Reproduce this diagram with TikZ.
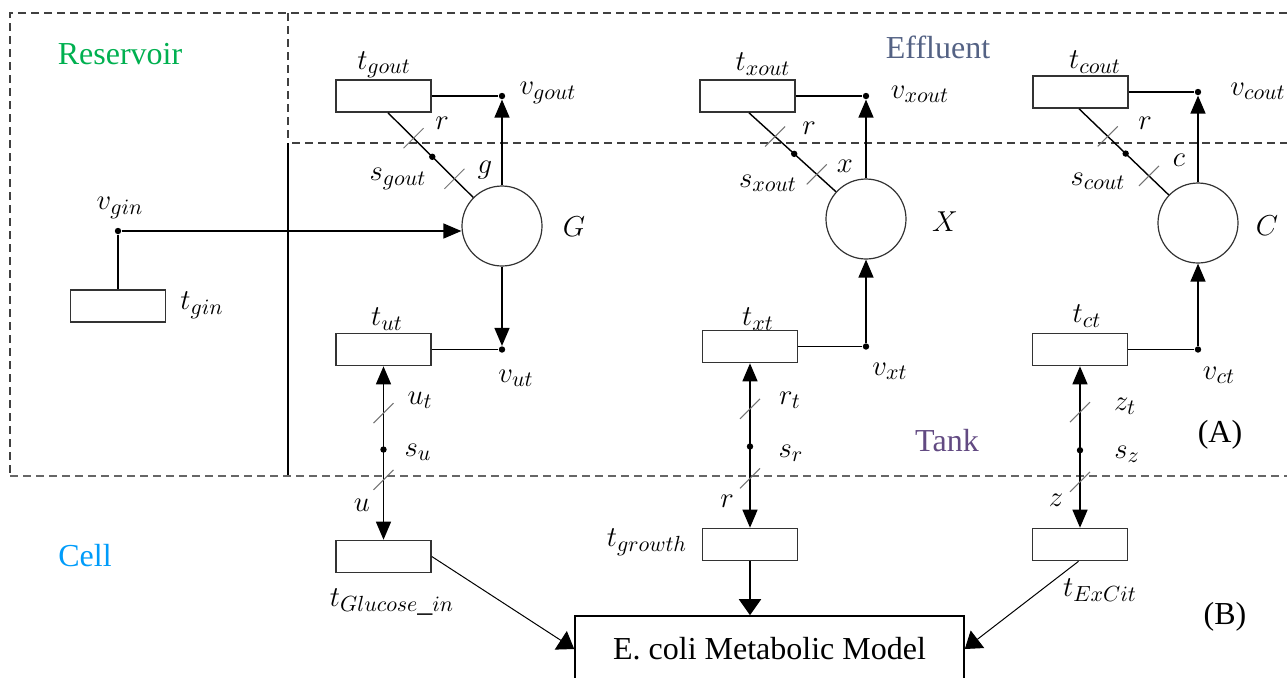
\documentclass[tikz,border=0pt]{standalone}
\usepackage{fontspec}
\setmainfont{Liberation Serif}
\usetikzlibrary{arrows.meta}
\definecolor{resgreen}{RGB}{0,176,80}
\definecolor{effslate}{RGB}{84,98,132}
\definecolor{tankpurple}{RGB}{98,74,130}
\definecolor{cellblue}{RGB}{0,156,250}

\begin{document}
\begin{tikzpicture}[x=0.5pt, y=-0.5pt,
		trans/.style={draw=black!80, line width=0.8pt, minimum width=47.5pt,
			minimum height=16pt, inner sep=0pt},
		place/.style={circle, draw=black!80, line width=0.6pt, minimum size=40pt, inner sep=0pt},
		joint/.style={circle, fill, inner sep=0pt, minimum size=3.2pt},
		lbl/.style={font=\fontsize{15}{18}\selectfont, inner sep=0pt},
		region/.style={font=\fontsize{16}{19}\selectfont, inner sep=0pt},
		link/.style={line width=0.7pt},
		arc/.style={link, -{Triangle[length=9pt, width=7.5pt]}},
		biarc/.style={link, {Triangle[length=9pt, width=7.5pt]}-{Triangle[length=9pt, width=7.5pt]}},
		feed/.style={line width=0.5pt, -{Triangle[length=8pt, width=11pt]}},
		frame/.style={draw=black!75, line width=0.7pt, dash pattern=on 4pt off 2.5pt},
		tickline/.style={draw=black!55, line width=0.5pt}
	]
		\useasboundingbox (0,0) rectangle (1287,677);
		% compartments
		\draw[frame] (1287,13) -- (10,13) -- (10,476);
		\draw[frame] (288,13) -- (288,143);
		\draw[frame] (292,143) -- (1287,143);
		\draw[link] (288,143) -- (288,476);
		\draw[frame, draw=black!60, line width=1pt] (10,476) -- (1287,476);
		\node[region, text=resgreen] (reservoir) at (120,54) {Reservoir};
		\node[region, text=effslate] (effluent) at (938,47) {Effluent};
		\node[region, text=tankpurple] (tank) at (947,441) {Tank};
		\node[region, text=cellblue] (cell) at (85,556) {Cell};
		\node[region] (markA) at (1220,435) {(A)};
		\node[region] (markB) at (1225,617) {(B)};

		% places
		\node[place] (G) at (502,226) {};
		\node[place] (X) at (866,219) {};
		\node[place] (C) at (1198,223) {};
		\node[lbl] (Gl) at (574,227) {$G$};
		\node[lbl] (Xl) at (945,222) {$X$};
		\node[lbl] (Cl) at (1267,226) {$C$};

		% transitions
		\node[trans] (tgin) at (118,306) {};
		\node[trans] (tgout) at (383.5,96) {};
		\node[trans] (tut) at (383.5,349.5) {};
		\node[trans] (tgluc) at (383.5,556.5) {};
		\node[trans] (txout) at (747.5,96) {};
		\node[trans] (txt) at (750,346.5) {};
		\node[trans] (tgrowth) at (750,544.5) {};
		\node[trans] (tcout) at (1080.5,92) {};
		\node[trans] (tct) at (1080,349.5) {};
		\node[trans] (texcit) at (1080,544.5) {};
		\node[draw, line width=0.8pt, minimum width=194.5pt, minimum height=33pt,
			font=\fontsize{16}{19}\selectfont] (ecoli) at (769.5,649) {E. coli Metabolic Model};

		% junctions
		\node[joint] (vgin) at (118,231) {};
		\node[joint] (vgout) at (502,96) {};
		\node[joint] (vut) at (502,349.5) {};
		\node[joint] (vxout) at (866,96) {};
		\node[joint] (vxt) at (866,346.5) {};
		\node[joint] (vcout) at (1198,92) {};
		\node[joint] (vct) at (1198,349.5) {};

		% arcs
		\draw[link] (vgin) -- (tgin);
		\draw[arc] (vgin) -- (vgin -| G.west);
		\foreach \a/\b in {G/vgout,G/vut,vxt/X,X/vxout,vct/C,C/vcout}
			\draw[arc] (\a) -- (\b);
		\foreach \a/\b in {tgout/vgout,tut/vut,txout/vxout,txt/vxt,tcout/vcout,tct/vct}
			\draw[link] (\a.east) -- (\b);
		\draw[link] (tgout.-75) -- coordinate[pos=0.3] (gt1) node[joint, pos=0.52] (sgout) {}
			coordinate[pos=0.78] (gt2) (G);
		\draw[link] (txout.-85) -- coordinate[pos=0.3] (xt1) node[joint, pos=0.52] (sxout) {}
			coordinate[pos=0.78] (xt2) (X);
		\draw[link] (tcout.-95) -- coordinate[pos=0.32] (ct1) node[joint, pos=0.52] (scout) {}
			coordinate[pos=0.78] (ct2) (C);
		\draw[biarc] (tut) -- coordinate[pos=0.27] (ut1) node[joint, pos=0.48] (su) {}
			coordinate[pos=0.655] (ut2) (tgluc);
		\draw[biarc] (txt) -- coordinate[pos=0.277] (rt1) node[joint, pos=0.506] (sr) {}
			coordinate[pos=0.70] (rt2) (tgrowth);
		\draw[biarc] (tct) -- coordinate[pos=0.284] (zt1) node[joint, pos=0.52] (sz) {}
			coordinate[pos=0.716] (zt2) (texcit);
		\foreach \t in {gt1,gt2,xt1,xt2,ct1,ct2,ut1,ut2,rt1,rt2,zt1,zt2}
			\draw[tickline] (\t) ++(-10,10) -- ++(20,-20);

		% into the metabolic model
		\draw[feed] (tgluc.east) -- (ecoli.west);
		\draw[feed, line width=1pt] (tgrowth) -- (tgrowth |- ecoli.north);
		\draw[feed] (texcit.-95) -- (ecoli.east);

		% labels
		\node[lbl] (tginl) at (202,305) {$t_{gin}$};
		\node[lbl] (vginl) at (120,208) {$v_{gin}$};
		\node[lbl] (tgoutl) at (384,65) {$t_{gout}$};
		\node[lbl] (vgoutl) at (548,93) {$v_{gout}$};
		\node[lbl] (rgl) at (442,123) {$r$};
		\node[lbl] (sgoutl) at (398,179) {$s_{gout}$};
		\node[lbl] (gl) at (485,170) {$g$};
		\node[lbl] (tutl) at (387,319) {$t_{ut}$};
		\node[lbl] (vutl) at (516,378) {$v_{ut}$};
		\node[lbl] (utl) at (420,400) {$u_t$};
		\node[lbl] (sul) at (418,452) {$s_u$};
		\node[lbl] (ul) at (362,505) {$u$};
		\node[lbl] (tglucl) at (392,602) {$t_{Glucose\_in}$};
		\node[lbl] (txoutl) at (763,64) {$t_{xout}$};
		\node[lbl] (vxoutl) at (920,94) {$v_{xout}$};
		\node[lbl] (rxl) at (809,128) {$r$};
		\node[lbl] (sxoutl) at (768,183) {$s_{xout}$};
		\node[lbl] (xl) at (845,166) {$x$};
		\node[lbl] (txtl) at (758,319) {$t_{xt}$};
		\node[lbl] (vxtl) at (890,371) {$v_{xt}$};
		\node[lbl] (rtl) at (790,400) {$r_t$};
		\node[lbl] (srl) at (791,453) {$s_r$};
		\node[lbl] (rl) at (727,501) {$r$};
		\node[lbl] (tgrowthl) at (647,542) {$t_{growth}$};
		\node[lbl] (tcoutl) at (1095,62) {$t_{cout}$};
		\node[lbl] (vcoutl) at (1258,91) {$v_{cout}$};
		\node[lbl] (rcl) at (1145,123) {$r$};
		\node[lbl] (scoutl) at (1098,181) {$s_{cout}$};
		\node[lbl] (cl) at (1179,160) {$c$};
		\node[lbl] (tctl) at (1087,316) {$t_{ct}$};
		\node[lbl] (vctl) at (1219,375) {$v_{ct}$};
		\node[lbl] (ztl) at (1125,406) {$z_t$};
		\node[lbl] (szl) at (1127,454) {$s_z$};
		\node[lbl] (zl) at (1056,500) {$z$};
		\node[lbl] (texcitl) at (1100,590) {$t_{ExCit}$};
	\end{tikzpicture}
\end{document}
